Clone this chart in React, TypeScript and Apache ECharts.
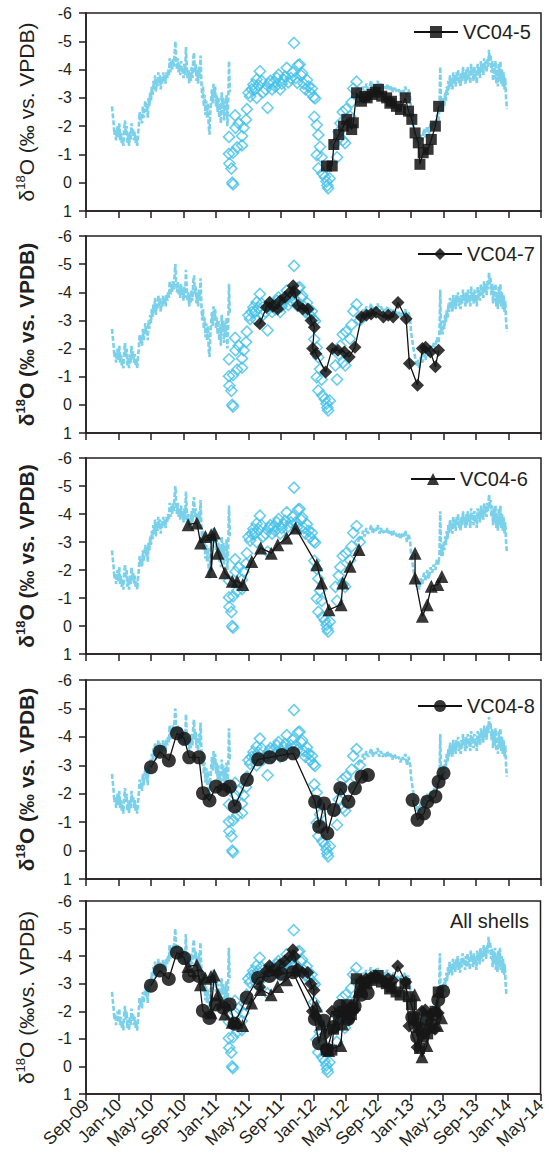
import React, { useEffect, useRef } from "react";
import * as echarts from "echarts";

// x values are months after 1 Sep 2009
const tickLabels = ["Sep-09","Jan-10","May-10","Sep-10","Jan-11","May-11","Sep-11","Jan-12","May-12","Sep-12","Jan-13","May-13","Sep-13","Jan-14","May-14"];

const modelA = [[3.2,-2.7],[3.3,-2.4],[3.4,-2.1],[3.5,-1.7],[3.6,-1.9],[3.7,-1.5],[3.8,-1.8],[3.9,-2.0],[4.0,-1.6],[4.1,-2.1],[4.2,-1.5],[4.3,-1.8],[4.4,-1.4],[4.5,-1.6],[4.6,-1.3],[4.7,-1.9],[4.8,-2.2],[4.9,-1.7],[5.0,-2.0],[5.1,-1.4],[5.2,-1.7],[5.3,-1.3],[5.4,-1.8],[5.5,-1.5],[5.6,-2.1],[5.7,-1.7],[5.8,-1.9],[5.9,-1.5],[6.0,-1.8],[6.1,-1.4],[6.2,-1.6],[6.3,-1.3],[6.4,-1.7],[6.5,-2.0],[6.6,-2.5],[6.7,-2.2],[6.8,-2.4],[6.9,-2.1],[7.0,-2.7],[7.1,-2.3],[7.2,-2.6],[7.3,-2.9],[7.4,-2.5],[7.5,-2.8],[7.6,-2.3],[7.7,-3.0],[7.8,-2.7],[7.9,-3.2],[8.0,-2.9],[8.1,-3.4],[8.2,-3.1],[8.3,-3.6],[8.4,-3.3],[8.5,-3.8],[8.6,-3.2],[8.7,-3.6],[8.8,-3.4],[8.9,-3.9],[9.0,-3.5],[9.1,-3.8],[9.2,-3.3],[9.3,-3.7],[9.4,-3.5],[9.5,-3.9],[9.6,-3.6],[9.7,-3.8],[9.8,-3.5],[9.9,-3.9],[10.0,-3.7],[10.1,-4.0],[10.2,-3.8],[10.3,-4.4],[10.4,-3.9],[10.5,-4.3],[10.6,-4.0],[10.7,-4.4],[10.8,-4.1],[10.9,-4.6],[11.0,-5.0],[11.1,-4.3],[11.2,-4.0],[11.3,-4.4],[11.4,-3.9],[11.5,-4.2],[11.6,-3.8],[11.7,-4.3],[11.8,-3.9],[11.9,-4.1],[12.0,-3.7],[12.1,-4.2],[12.2,-3.8],[12.3,-4.8],[12.4,-4.1],[12.5,-3.7],[12.6,-4.0],[12.7,-3.5],[12.8,-3.9],[12.9,-3.6],[13.0,-4.1],[13.1,-3.7],[13.2,-4.4],[13.3,-4.6],[13.4,-3.9],[13.5,-4.2],[13.6,-3.6],[13.7,-4.0],[13.8,-3.5],[13.9,-4.1],[14.0,-3.7],[14.1,-4.5],[14.2,-3.6],[14.3,-3.0],[14.4,-3.4],[14.5,-2.7],[14.6,-3.1],[14.7,-2.4],[14.8,-2.9],[14.9,-2.3],[15.0,-2.8],[15.1,-2.0],[15.2,-1.7],[15.3,-2.5],[15.4,-2.9],[15.5,-3.3],[15.6,-2.8],[15.7,-3.5],[15.8,-3.0],[15.9,-3.4],[16.0,-2.7],[16.1,-3.1],[16.2,-2.5],[16.3,-3.0],[16.4,-2.3],[16.5,-2.8],[16.6,-2.1],[16.7,-3.2],[16.8,-2.6],[16.9,-3.0],[17.0,-2.2],[17.1,-2.9],[17.2,-2.4],[17.3,-3.1],[17.4,-2.0],[17.5,-2.8],[17.6,-4.3],[17.7,-3.2]];

const modelB = [[33.5,-3.0],[33.7,-3.2],[33.9,-3.1],[34.1,-3.4],[34.3,-3.2],[34.5,-3.5],[34.7,-3.3],[34.9,-3.4],[35.1,-3.6],[35.3,-3.3],[35.5,-3.5],[35.7,-3.4],[35.9,-3.6],[36.1,-3.3],[36.3,-3.5],[36.5,-3.3],[36.7,-3.4],[36.9,-3.3],[37.1,-3.5],[37.3,-3.3],[37.5,-3.4],[37.7,-3.2],[37.9,-3.4],[38.1,-3.3],[38.3,-3.2],[38.5,-3.3],[38.7,-3.1],[38.9,-3.3],[39.1,-3.2],[39.3,-3.4],[39.5,-3.0],[39.7,-3.3],[39.9,-3.0],[40.0,-2.6],[40.1,-2.4],[40.3,-2.0],[40.5,-1.7],[40.7,-1.4],[40.9,-1.6],[41.0,-1.3],[41.2,-1.7],[41.4,-1.5],[41.6,-1.9],[41.8,-1.6],[42.0,-2.0],[42.2,-1.7],[42.4,-2.1],[42.6,-1.9],[42.8,-2.2],[43.0,-2.0],[43.2,-2.4],[43.4,-2.2],[43.5,-2.6],[43.6,-4.1],[43.7,-2.5],[43.8,-2.8],[43.9,-2.5],[44.0,-3.0],[44.1,-2.7],[44.2,-3.2],[44.3,-2.9],[44.4,-3.4],[44.5,-3.1],[44.6,-3.6],[44.7,-3.3],[44.8,-3.8],[44.9,-3.4],[45.0,-3.7],[45.1,-3.3],[45.2,-3.9],[45.3,-3.5],[45.4,-3.8],[45.5,-3.4],[45.6,-3.9],[45.7,-3.6],[45.8,-4.0],[45.9,-3.5],[46.0,-3.8],[46.1,-3.4],[46.2,-3.9],[46.3,-3.6],[46.4,-4.1],[46.5,-3.7],[46.6,-3.9],[46.7,-3.5],[46.8,-4.0],[46.9,-3.6],[47.0,-4.1],[47.1,-3.7],[47.2,-3.9],[47.3,-3.5],[47.4,-4.2],[47.5,-3.8],[47.6,-4.0],[47.7,-3.6],[47.8,-4.1],[47.9,-3.7],[48.0,-3.9],[48.1,-3.5],[48.2,-4.2],[48.3,-3.8],[48.4,-4.1],[48.5,-3.7],[48.6,-4.3],[48.7,-3.9],[48.8,-4.2],[48.9,-3.8],[49.0,-4.4],[49.1,-4.0],[49.2,-4.3],[49.3,-3.9],[49.4,-4.4],[49.5,-4.1],[49.6,-4.7],[49.7,-4.3],[49.8,-4.5],[49.9,-3.9],[50.0,-4.3],[50.1,-3.6],[50.2,-4.2],[50.3,-3.7],[50.4,-4.3],[50.5,-3.5],[50.6,-4.0],[50.7,-3.4],[50.8,-4.2],[50.9,-3.6],[51.0,-4.3],[51.1,-3.5],[51.2,-4.0],[51.3,-3.4],[51.4,-3.9],[51.5,-3.3],[51.6,-3.7],[51.7,-3.0],[51.8,-2.6]];

const openDiamonds = [[17.6,-1.62],[17.6,-1.02],[17.65,-0.68],[17.9,-0.5],[18.0,0.0],[18.1,0.06],[18.1,-1.06],[18.35,-2.38],[18.4,-1.94],[18.8,-2.1],[19.2,-1.65],[19.2,-1.32],[18.6,-1.25],[19.4,-1.94],[19.7,-2.23],[19.8,-2.6],[20.0,-3.18],[20.2,-3.05],[20.4,-3.3],[20.6,-3.47],[20.8,-3.3],[21.0,-3.65],[21.0,-3.0],[21.2,-3.45],[21.4,-3.94],[21.6,-3.6],[21.8,-3.2],[22.1,-3.3],[22.35,-2.65],[22.5,-3.5],[22.7,-3.6],[22.9,-3.3],[23.1,-3.55],[23.3,-3.4],[23.5,-3.7],[23.7,-3.82],[23.9,-3.3],[24.1,-3.5],[24.3,-3.65],[24.5,-3.75],[24.7,-4.06],[24.9,-3.55],[25.2,-3.7],[25.4,-3.9],[25.6,-4.94],[25.8,-3.7],[26.0,-3.53],[26.1,-4.16],[26.3,-4.18],[26.5,-3.8],[26.6,-3.88],[26.8,-3.5],[27.0,-3.3],[27.2,-3.63],[27.4,-3.4],[27.6,-3.18],[27.8,-3.33],[28.0,-3.03],[28.2,-2.98],[28.1,-2.33],[28.4,-2.04],[28.6,-1.69],[28.8,-1.27],[28.4,-0.98],[29.0,-0.9],[28.6,-0.51],[29.1,-0.33],[29.4,-0.2],[29.6,-0.04],[29.8,0.2],[29.7,0.1],[30.0,-0.15],[30.7,-1.4],[30.9,-0.9],[31.1,-1.8],[31.3,-2.1],[31.6,-1.5],[31.9,-1.4],[31.6,-2.5],[32.0,-2.6],[32.5,-2.35],[32.7,-2.85],[32.9,-3.33],[33.3,-3.57],[33.7,-3.0]];

const vc045 = [[29.6,-0.59],[30.3,-0.59],[30.5,-1.35],[31.1,-1.7],[31.7,-2.0],[32.1,-2.24],[32.7,-1.88],[32.9,-2.12],[33.3,-3.18],[33.9,-2.88],[34.3,-3.05],[34.6,-3.0],[35.2,-3.12],[35.6,-3.2],[36.0,-3.3],[36.4,-3.06],[37.0,-3.0],[37.4,-2.81],[37.6,-2.88],[38.2,-2.7],[38.7,-2.59],[39.3,-3.0],[39.7,-2.53],[40.1,-2.24],[40.5,-1.76],[40.9,-1.41],[41.1,-0.65],[41.5,-1.06],[42.1,-1.18],[42.5,-1.53],[43.0,-2.0],[43.4,-2.7]];

const vc047 = [[21.4,-2.88],[22.2,-3.47],[22.6,-3.65],[23.0,-3.5],[23.6,-3.41],[23.9,-3.7],[24.5,-3.82],[25.1,-4.0],[25.5,-4.23],[25.7,-4.0],[26.1,-3.53],[26.7,-3.41],[27.3,-3.41],[27.7,-3.0],[28.1,-2.76],[27.9,-2.0],[28.3,-1.82],[29.5,-1.17],[30.3,-2.0],[31.0,-1.94],[31.8,-1.88],[32.4,-1.7],[33.1,-2.05],[33.9,-3.12],[34.5,-3.18],[35.1,-3.23],[35.7,-3.29],[36.6,-3.12],[37.2,-3.18],[37.8,-3.12],[38.4,-3.64],[39.4,-3.06],[39.8,-1.47],[40.8,-0.7],[41.4,-2.0],[41.8,-2.05],[42.4,-1.88],[43.0,-1.35],[43.4,-1.94]];

const vc046 = [[12.57,-3.62],[13.65,-3.68],[14.1,-2.96],[14.7,-3.2],[15.4,-3.26],[15.4,-1.95],[15.8,-3.32],[16.25,-2.6],[17.1,-1.9],[18.0,-1.6],[18.6,-1.6],[19.3,-1.48],[20.4,-2.3],[21.5,-2.79],[22.8,-2.6],[23.6,-2.9],[24.7,-3.14],[25.8,-3.5],[28.4,-2.19],[29.0,-1.54],[29.9,-0.58],[31.4,-0.76],[31.6,-1.54],[32.5,-2.13],[33.6,-2.73],[37.0,"-"],[40.5,-2.6],[40.5,-1.71],[41.4,-0.35],[42.0,-0.76],[42.5,-1.42],[43.3,-1.48],[43.8,-1.77]];

const vc048 = [[8.0,-2.93],[9.1,-3.48],[10.2,-3.17],[11.2,-4.13],[12.1,-3.93],[12.7,-3.28],[13.9,-3.28],[14.4,-2.02],[15.2,-1.76],[16.0,-2.25],[16.9,-2.13],[17.7,-2.25],[18.3,-1.55],[19.8,-2.49],[21.2,-3.21],[22.6,-3.28],[24.1,-3.36],[25.5,-3.42],[28.2,-1.72],[28.7,-0.84],[29.3,-1.66],[29.7,-0.61],[30.5,-1.43],[31.3,-2.19],[32.3,-1.72],[33.1,-2.19],[33.9,-2.6],[34.7,-2.66],[37.0,"-"],[40.2,-1.78],[40.8,-1.08],[41.6,-1.31],[42.0,-1.72],[43.0,-1.9],[43.4,-2.42],[44.0,-2.72]];

const shellNames = ["VC04-5", "VC04-7", "VC04-6", "VC04-8"];
const shellData = [vc045, vc047, vc046, vc048];
const shellSymbols = ["rect", "diamond", "triangle", "circle"];
const shellSymbolSizes = [11, 13, 13, 14];
const axisNames = ["δ{s|18}O (‰ vs. VPDB)", "δ{b|18}O (‰ vs. VPDB)", "δ{b|18}O (‰ vs. VPDB)", "δ{b|18}O (‰ vs. VPDB)", "δ{s|18}O (‰vs. VPDB)"];

// layout
const W = 549, H = 1157;
const gridTops = [13, 236, 458, 680, 901];
const gridHeights = [198, 197, 196, 199, 193];
const gridLeft = 86, gridRight = 8;
const legendPos = [[413, 22], [417, 244], [410, 469], [417, 696]];

const FONT = '"Liberation Sans", Arial, Helvetica, sans-serif';
const INK = "#231f20";

export default function App() {
  const ref = useRef<HTMLDivElement>(null);
  useEffect(() => {
    document.body.style.margin = "0";
    const chart = echarts.init(ref.current!, null, { renderer: "svg" });
    const modelAll = [...modelA, [25, "-"], ...modelB];
    const grid: any[] = [], xAxis: any[] = [], yAxis: any[] = [], series: any[] = [];
    for (let i = 0; i < 5; i++) {
      grid.push({ left: gridLeft, right: gridRight, top: gridTops[i], height: gridHeights[i], show: true, borderColor: INK, borderWidth: 1.5, backgroundColor: "transparent" });
      xAxis.push({
        type: "value", gridIndex: i, min: 0, max: 56, interval: 4,
        axisLine: { show: true, onZero: false, lineStyle: { color: INK, width: 1.5 } },
        axisTick: { show: true, inside: false, length: 7, lineStyle: { color: INK, width: 1.5 } },
        axisLabel: { show: i === 4, rotate: 45, fontSize: 17.5, color: INK, fontFamily: FONT, margin: 8,
          formatter: (v: number) => tickLabels[Math.round(v / 4)] },
        splitLine: { show: false },
      });
      const bold = i >= 1 && i <= 3;
      yAxis.push({
        type: "value", gridIndex: i, inverse: true, min: -6, max: 1, interval: 1,
        axisLine: { show: true, onZero: false, lineStyle: { color: INK, width: 1.5 } },
        axisTick: { show: true, inside: false, length: 7, lineStyle: { color: INK, width: 1.5 } },
        axisLabel: { fontSize: 16, color: INK, fontFamily: FONT, margin: 14 },
        splitLine: { show: false },
        name: axisNames[i], nameLocation: "middle", nameRotate: 90, nameGap: 48,
        nameTextStyle: {
          fontSize: 21, color: INK, fontFamily: FONT, fontWeight: bold ? "bold" : "normal", lineHeight: 24,
          rich: {
            s: { fontSize: 13, fontFamily: FONT, color: INK, verticalAlign: "top", lineHeight: 16 },
            b: { fontSize: 13, fontFamily: FONT, color: INK, fontWeight: "bold", verticalAlign: "top", lineHeight: 16 },
          },
        },
      });
      series.push({
        type: "line", name: "model-" + i, data: modelAll, xAxisIndex: i, yAxisIndex: i,
        showSymbol: false, symbol: "none", connectNulls: false, silent: true, z: 1,
        lineStyle: { color: "#7bd0ea", width: 2.6, type: [5, 2] },
      });
      series.push({
        type: "scatter", name: "diamonds-" + i, data: openDiamonds, xAxisIndex: i, yAxisIndex: i,
        symbol: "diamond", symbolSize: 11, z: 2, silent: true,
        itemStyle: { color: "rgba(255,255,255,0)", borderColor: "#43c1e8", borderWidth: 1.6 },
      });
      const idx = i < 4 ? [i] : [0, 1, 2, 3];
      for (const k of idx) {
        series.push({
          type: "line", name: i < 4 ? shellNames[k] : "all-" + shellNames[k], data: shellData[k],
          xAxisIndex: i, yAxisIndex: i, symbol: shellSymbols[k], symbolSize: shellSymbolSizes[k],
          showSymbol: true, connectNulls: false, z: 3,
          lineStyle: { color: "#111", width: 1.3 },
          itemStyle: { color: "#161616", opacity: 0.86 },
        });
      }
    }
    const legend = legendPos.map((p, i) => ({
      data: [shellNames[i]], left: p[0], top: p[1], padding: 0, itemWidth: 44, itemHeight: 15,
      textStyle: { fontSize: 20, color: INK, fontFamily: FONT }, selectedMode: false,
    }));
    chart.setOption({
      animation: false,
      backgroundColor: "#fff",
      textStyle: { fontFamily: FONT },
      title: { text: "All shells", left: 450, top: 911, textStyle: { fontSize: 20, fontWeight: "normal", color: INK, fontFamily: FONT }, padding: 0 },
      legend, grid, xAxis, yAxis, series,
    });
    return () => chart.dispose();
  }, []);
  return <div ref={ref} style={{ position: "absolute", left: 0, top: 0, width: W, height: H }} />;
}
